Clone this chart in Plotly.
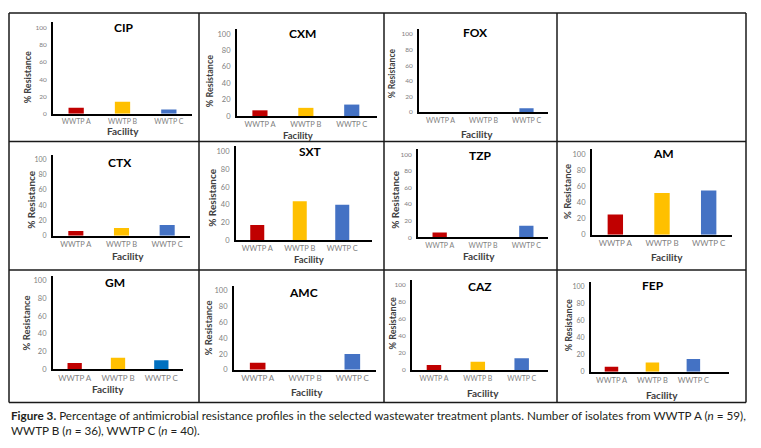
import plotly.graph_objects as go

facilities = ["WWTP A", "WWTP B", "WWTP C"]
antibiotics = ["CIP", "CXM", "FOX", "CTX", "SXT", "TZP", "AM", "GM", "AMC", "CAZ", "FEP"]
wwtp_a = [7, 7, 0, 6, 17, 6, 25, 7, 9, 6, 6]
wwtp_b = [14, 10, 0, 10, 44, 0, 52, 13, 0, 10, 11]
wwtp_c = [5, 14, 5, 14, 40, 14, 55, 10, 20, 14, 15]
y_ticks = [0, 20, 40, 60, 80, 100]
caption_1 = ("<b>Figure 3.</b> Percentage of antimicrobial resistance profiles in the selected "
             "wastewater treatment plants. Number of isolates from WWTP A (<i>n</i> = 59),")
caption_2 = "WWTP B (<i>n</i> = 36), WWTP C (<i>n</i> = 40)."

# page body has an 8px margin: the figure is drawn at (8, 8)
OFF = 8
W, H = 761 - OFF, 448 - OFF

# geometry per panel (page pixels): x0, x1, y of 0, y of 100, x-range max, tick sizes,
# title (x,y), y-title (x,y,size), facility (x,y,size)
geom = {
    "CIP": dict(x0=53, x1=192, y0=115, y1=27.7, xm=2.5, fs=6.5, cs=7, t=(123, 28), yt=(27, 78, 9), fx=(123, 132, 10)),
    "CXM": dict(x0=237, x1=377, y0=117.3, y1=34.3, xm=2.55, fs=7.5, cs=7.5, t=(302, 34), yt=(209, 82, 9), fx=(298, 137, 9.5)),
    "FOX": dict(x0=419, x1=548, y0=113.3, y1=34.3, xm=2.5, fs=6.5, cs=7, t=(475, 33), yt=(392, 74, 8.5), fx=(477, 135, 10)),
    "CTX": dict(x0=53, x1=190, y0=238.3, y1=161, xm=2.5, fs=7, cs=7.5, t=(120, 164), yt=(31, 202, 10), fx=(128, 259, 10)),
    "SXT": dict(x0=236, x1=372, y0=242.7, y1=153.3, xm=2.7, fs=7.5, cs=7.5, t=(310, 153), yt=(212, 200, 10), fx=(309, 262.5, 9.5)),
    "TZP": dict(x0=418, x1=548, y0=240, y1=156, xm=2.5, fs=6.5, cs=7, t=(480, 157), yt=(395, 202, 10), fx=(479, 259, 10)),
    "AM":  dict(x0=592, x1=732, y0=237.3, y1=156, xm=2.5, fs=7.5, cs=8, t=(663, 155), yt=(568, 194, 9.5), fx=(667, 260, 10)),
    "GM":  dict(x0=53, x1=183, y0=373.3, y1=284, xm=2.5, fs=7.5, cs=8, t=(115, 286), yt=(26, 327, 9.5), fx=(108, 393, 10)),
    "AMC": dict(x0=234, x1=376, y0=374, y1=294, xm=2.5, fs=7.5, cs=8, t=(303, 296), yt=(208, 332, 9.5), fx=(307, 396, 10)),
    "CAZ": dict(x0=412, x1=548, y0=374.3, y1=288.3, xm=2.6, fs=6.5, cs=7, t=(480, 290), yt=(392, 327, 9), fx=(483, 397, 10)),
    "FEP": dict(x0=591, x1=729, y0=376, y1=290, xm=2.87, fs=7, cs=7.5, t=(653, 289), yt=(568, 329, 9), fx=(662, 399, 10)),
}

RED, YEL, BLUE, BLUE2 = "#C00000", "#FFC000", "#4472C4", "#0070C0"
TICK = "#808080"
DARK = "#404040"

fig = go.Figure()
annotations = []
layout = {}

def px(x):
    return (x - OFF) / W

def py(y):
    return 1 - (y - OFF) / H

for i, ab in enumerate(antibiotics):
    g = geom[ab]
    n = "" if i == 0 else str(i + 1)
    colors = [RED, YEL, BLUE2 if ab == "GM" else BLUE]
    fig.add_trace(go.Bar(
        x=facilities, y=[wwtp_a[i], wwtp_b[i], wwtp_c[i]],
        marker=dict(color=colors, line=dict(width=0)), width=0.33,
        xaxis="x" + n, yaxis="y" + n, showlegend=False, hoverinfo="x+y",
    ))
    top = 1.06
    ytop_px = g["y0"] - top * (g["y0"] - g["y1"])
    layout["xaxis" + n] = dict(
        domain=[px(g["x0"]), px(g["x1"])], anchor="y" + n,
        type="category", range=[-0.5, g["xm"]],
        showline=True, linecolor="black", linewidth=2, ticks="",
        showgrid=False, zeroline=False,
        tickfont=dict(family="Lato", size=g["cs"], color=TICK),
    )
    layout["yaxis" + n] = dict(
        domain=[py(g["y0"]), py(ytop_px)], anchor="x" + n,
        range=[0, 100 * top], tickvals=y_ticks,
        showline=True, linecolor="black", linewidth=2, ticks="",
        showgrid=False, zeroline=False, ticklabelstandoff=3,
        tickfont=dict(family="Lato", size=g["fs"], color=TICK),
    )
    annotations.append(dict(
        text="<b>%s</b>" % ab, x=px(g["t"][0]), y=py(g["t"][1]), xref="paper", yref="paper",
        showarrow=False, xanchor="center", yanchor="middle",
        font=dict(family="Lato", size=12, color="black"),
    ))
    annotations.append(dict(
        text="<b>% Resistance</b>", x=px(g["yt"][0]), y=py(g["yt"][1]), xref="paper", yref="paper",
        showarrow=False, xanchor="center", yanchor="middle", textangle=-90,
        font=dict(family="Lato", size=g["yt"][2], color=DARK),
    ))
    annotations.append(dict(
        text="<b>Facility</b>", x=px(g["fx"][0]), y=py(g["fx"][1]), xref="paper", yref="paper",
        showarrow=False, xanchor="center", yanchor="middle",
        font=dict(family="Lato", size=g["fx"][2], color=DARK),
    ))

annotations.append(dict(
    text=caption_1, x=px(9), y=py(420), xref="paper", yref="paper", showarrow=False,
    xanchor="left", yanchor="middle", align="left",
    font=dict(family="Lato", size=11.7, color="#231F20"),
))
annotations.append(dict(
    text=caption_2, x=px(9), y=py(435), xref="paper", yref="paper", showarrow=False,
    xanchor="left", yanchor="middle", align="left",
    font=dict(family="Lato", size=11.7, color="#231F20"),
))

shapes = []
line_style = dict(color="#1a1a1a", width=1.5)
for yv in [13, 143, 273, 407]:
    shapes.append(dict(type="line", xref="paper", yref="paper", x0=px(9), x1=px(746),
                       y0=py(yv), y1=py(yv), line=line_style))
for xv in [9, 199, 384, 557, 746]:
    shapes.append(dict(type="line", xref="paper", yref="paper", x0=px(xv), x1=px(xv),
                       y0=py(13), y1=py(407), line=line_style))

fig.update_layout(
    width=W, height=H, margin=dict(l=0, r=0, t=0, b=0),
    paper_bgcolor="white", plot_bgcolor="white",
    annotations=annotations, shapes=shapes, **layout,
)

fig.write_html("out.html", config={"displayModeBar": False})
